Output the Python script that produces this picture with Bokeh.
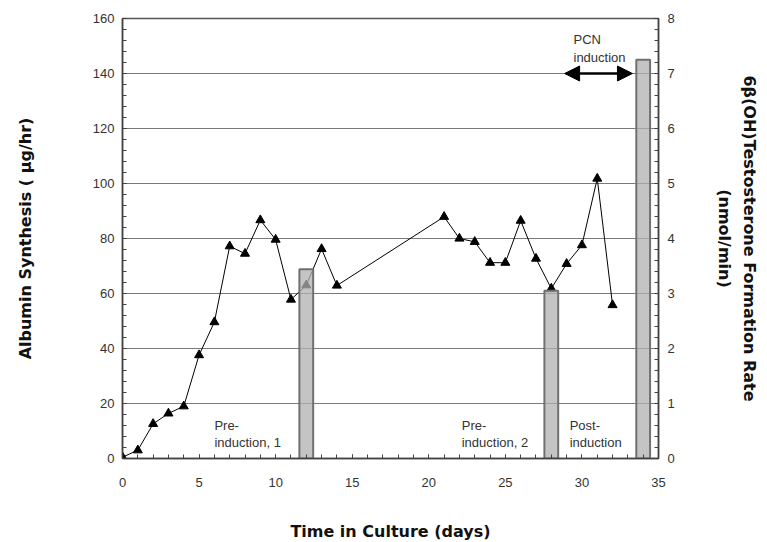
from bokeh.plotting import figure
from bokeh.models import (Range1d, LinearAxis, SingleIntervalTicker, Label, Arrow,
                          NormalHead, ColumnDataSource)
from bokeh.embed import file_html
from bokeh.resources import INLINE

# ---- data ----
days = [0, 1, 2, 3, 4, 5, 6, 7, 8, 9, 10, 11, 12, 13, 14,
        21, 22, 23, 24, 25, 26, 27, 28, 29, 30, 31, 32]
albumin = [0.5, 3, 12.6, 16.4, 19, 37.6, 49.6, 77.2, 74.5, 86.7, 79.6, 57.8, 63, 76.2, 62.9,
           87.9, 80, 78.8, 71.2, 71.2, 86.5, 72.7, 61.8, 70.8, 77.6, 101.8, 55.8]
bar_days = [12, 28, 34]
testosterone = [3.44, 3.05, 7.25]

x_ticks_interval = 5
left_ticks_interval = 20
right_ticks_interval = 1

annotations = [
    ("Pre-", "induction, 1", 6.0),
    ("Pre-", "induction, 2", 22.15),
    ("Post-", "induction", 29.2),
]
pcn_lines = ("PCN", "induction")
arrow_span = (28.87, 33.3, 140)

FONT = "Liberation Sans"
LBL_FONT = "DejaVu Sans"
TXT = "#333333"

p = figure(frame_width=536, frame_height=440, output_backend="svg", toolbar_location=None,
           x_range=Range1d(0, 35), y_range=Range1d(0, 160),
           min_border_left=122, min_border_top=18, min_border_right=92, min_border_bottom=60,
           background_fill_color="white", border_fill_color="white")
p.outline_line_color = "#555555"
p.outline_line_width = 1.5
p.extra_y_ranges = {"right": Range1d(0, 8)}

# grid
p.xgrid.visible = False
p.ygrid.grid_line_color = "#7a7a7a"
p.ygrid.grid_line_width = 1.2
p.ygrid.ticker = SingleIntervalTicker(interval=left_ticks_interval)

def style_axis(ax):
    ax.axis_line_color = "#404040"
    ax.axis_line_width = 1.5
    ax.major_tick_in = 4
    ax.major_tick_out = 0
    ax.minor_tick_in = 4
    ax.minor_tick_out = 0
    ax.major_tick_line_color = "#404040"
    ax.minor_tick_line_color = "#404040"
    ax.major_label_text_font = FONT
    ax.major_label_text_font_size = "13px"
    ax.major_label_text_color = TXT
    ax.axis_label_text_font = LBL_FONT
    ax.axis_label_text_font_size = "16px"
    ax.axis_label_text_font_style = "bold"
    ax.axis_label_text_color = "#111111"

xa = p.xaxis[0]
xa.ticker = SingleIntervalTicker(interval=x_ticks_interval, num_minor_ticks=5)
style_axis(xa)
xa.major_label_standoff = 19
xa.axis_label = "Time in Culture (days)"
xa.axis_label_standoff = 32

ya = p.yaxis[0]
ya.ticker = SingleIntervalTicker(interval=left_ticks_interval, num_minor_ticks=5)
style_axis(ya)
ya.major_label_standoff = 8
ya.axis_label = "Albumin Synthesis ( \u00b5g/hr)"
ya.axis_label_standoff = 55

ra = LinearAxis(y_range_name="right",
                ticker=SingleIntervalTicker(interval=right_ticks_interval, num_minor_ticks=5))
style_axis(ra)
ra.major_label_standoff = 9
ra.axis_label = "6\u03b2(OH)Testosterone Formation Rate\n(nmol/min)"
ra.axis_label_standoff = 37
ra.axis_label_text_line_height = 1.35
p.add_layout(ra, "right")

# line + markers
src = ColumnDataSource(dict(x=days, y=albumin))
p.line("x", "y", source=src, line_color="black", line_width=1)
p.scatter("x", "y", source=src, marker="triangle", size=9, fill_color="black", line_color="black")

# bars
bsrc = ColumnDataSource(dict(x=bar_days, top=testosterone))
p.vbar(x="x", top="top", width=0.9, bottom=0, source=bsrc, y_range_name="right",
       fill_color="#b0b0b0", fill_alpha=0.75, line_color="#707070", line_width=2)

# annotations
for l1, l2, xpos in annotations:
    p.add_layout(Label(x=xpos, y=12, text=l1, text_font=FONT, text_font_size="13px",
                       text_color=TXT, text_baseline="middle"))
    p.add_layout(Label(x=xpos, y=5.8, text=l2, text_font=FONT, text_font_size="13px",
                       text_color=TXT, text_baseline="middle"))
p.add_layout(Label(x=29.45, y=152.4, text=pcn_lines[0], text_font=FONT, text_font_size="13px",
                   text_color=TXT, text_baseline="middle"))
p.add_layout(Label(x=29.45, y=145.8, text=pcn_lines[1], text_font=FONT, text_font_size="13px",
                   text_color=TXT, text_baseline="middle"))

p.add_layout(Arrow(x_start=arrow_span[0], x_end=arrow_span[1], y_start=arrow_span[2], y_end=arrow_span[2],
                   line_width=2.5, line_color="black",
                   start=NormalHead(size=15, fill_color="black", line_color="black"),
                   end=NormalHead(size=15, fill_color="black", line_color="black")))

open("out.html", "w").write(file_html(p, INLINE))
